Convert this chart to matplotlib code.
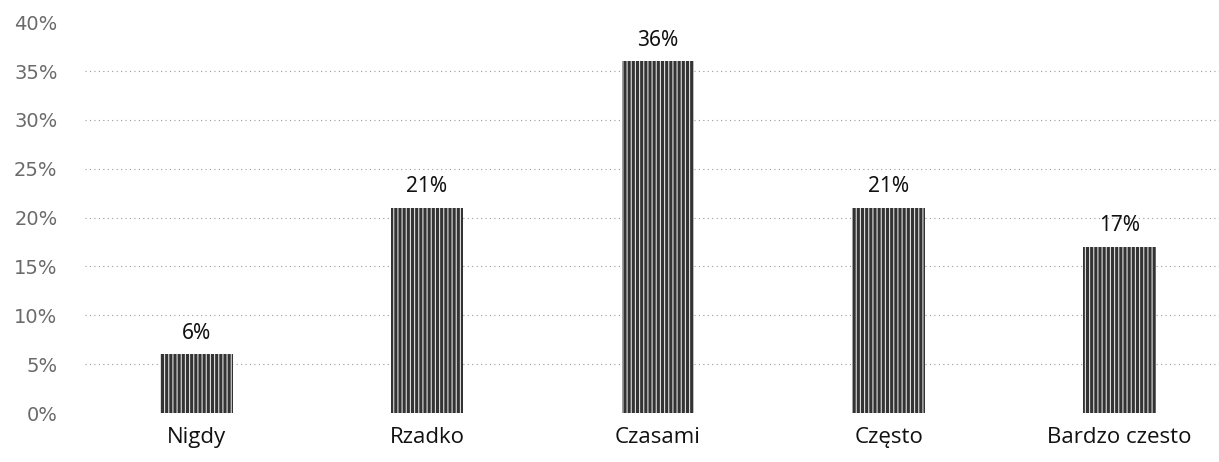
import numpy as np
import matplotlib.pyplot as plt

kategorie = ["Nigdy", "Rzadko", "Czasami", "Często", "Bardzo czesto"]
wartosci = [6, 21, 36, 21, 17]          # en %
etykiety = ["6%", "21%", "36%", "21%", "17%"]
ticks_y = [0, 5, 10, 15, 20, 25, 30, 35, 40]

plt.rcParams['font.family'] = ['Open Sans', 'DejaVu Sans']
plt.rcParams['hatch.linewidth'] = 0.8

fig = plt.figure(figsize=(12.19, 4.62), dpi=100)
ax = fig.add_axes([0.07, 0.106, 0.93, 0.846])

x = np.arange(len(kategorie))
bars = ax.bar(x, wartosci, width=0.315, color='#333333', edgecolor='#e0e0e0',
              hatch='||||', linewidth=0, zorder=3)

#etiquettes au-dessus des barres
for b, txt in zip(bars, etykiety):
    ax.text(b.get_x() + b.get_width()/2, b.get_height() + 1.1, txt,
            ha='center', va='bottom', fontsize=15, color='#111111',
            family=['Noto Sans', 'DejaVu Sans'])

ax.set_xlim(-0.48, 4.43)
ax.set_ylim(0, 40)
ax.set_yticks(ticks_y)
ax.set_yticklabels([f"{t}%" for t in ticks_y], fontsize=14, color='#6a6a6a',
                   family='DejaVu Sans')
ax.set_xticks(x)
ax.set_xticklabels(kategorie, fontsize=16, color='#111111')
ax.tick_params(axis='both', length=0)
ax.tick_params(axis='x', pad=10)
ax.tick_params(axis='y', pad=20)

ax.yaxis.grid(True, linestyle=(0, (1, 3)), color='#9a9a9a', linewidth=0.8, zorder=0)
lignes = ax.yaxis.get_gridlines()
lignes[0].set_visible(False)
lignes[-1].set_visible(False)
for s in ax.spines.values():
    s.set_visible(False)

fig.savefig("out.png", dpi=100)
